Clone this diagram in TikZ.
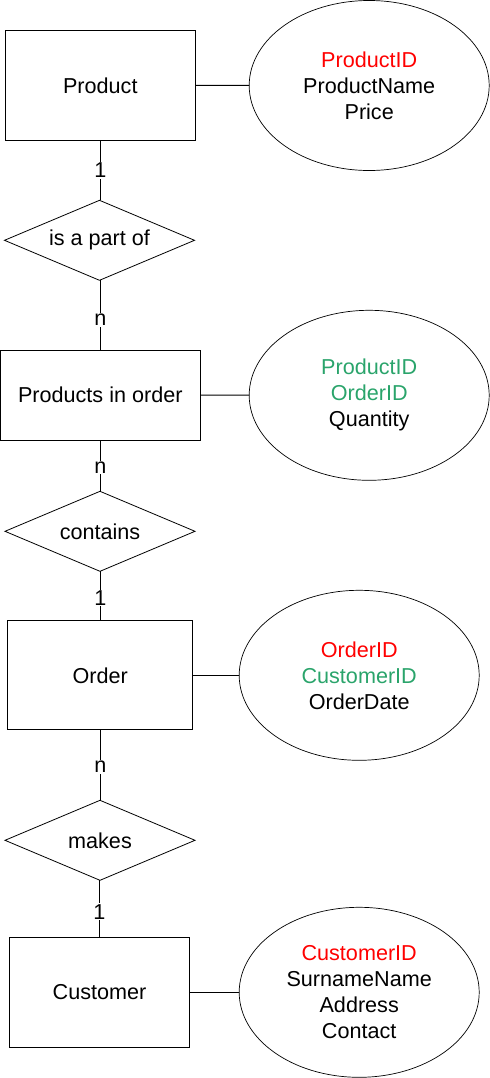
\documentclass[tikz,border=0pt]{standalone}
\usepackage{fontspec}
\setmainfont{Liberation Sans}
\usetikzlibrary{shapes.geometric}
\definecolor{keyred}{HTML}{FF0000}
\definecolor{fkgreen}{HTML}{2AA46B}
\tikzset{
  x=1bp, y=-1bp,
  every node/.style={font=\fontsize{21.6bp}{26bp}\selectfont, inner sep=0pt, outer sep=0pt},
  entity/.style={draw, line width=1bp, minimum width=#1},
  entity/.default={190bp},
  attr/.style={draw, line width=0.7bp, ellipse, minimum width=240bp, minimum height=170bp, align=center},
  rel/.style={draw, line width=0.8bp, diamond, aspect=2.375, minimum width=190bp, minimum height=80bp},
  link/.style={line width=1bp},
  card/.style={fill=white, inner sep=1bp}
}
\begin{document}
\begin{tikzpicture}
\useasboundingbox (0,0) rectangle (490,1078);
% entities
\node[entity={190bp}, minimum height=110bp] (product) at (100.3,85.3) {Product};
\node[entity={200bp}, minimum height=90bp] (pio) at (100.3,395) {Products in order};
\node[entity={185bp}, minimum height=109bp] (order) at (100.3,675.3) {Order};
\node[entity={180bp}, minimum height=110bp] (customer) at (99.5,992.3) {Customer};
% attributes
\node[attr] (productA) at (369.2,85.5) {\textcolor{keyred}{ProductID}\\ProductName\\Price};
\node[attr] (pioA) at (369.2,395.3) {\textcolor{fkgreen}{ProductID}\\\textcolor{fkgreen}{OrderID}\\Quantity};
\node[attr] (orderA) at (359.2,675.3) {\textcolor{keyred}{OrderID}\\\textcolor{fkgreen}{CustomerID}\\OrderDate};
\node[attr] (customerA) at (359.2,992.3) {\textcolor{keyred}{CustomerID}\\SurnameName\\Address\\Contact};
% relationships
\node[rel] (partof) at (99.5,240.3) {is a part of};
\node[rel] (contains) at (100,531.3) {contains};
\node[rel] (makes) at (100,840.3) {makes};
% attribute links
\draw[link] (product) -- (productA);
\draw[link] (pio) -- (pioA);
\draw[link] (order) -- (orderA);
\draw[link] (customer) -- (customerA);
% relationship links
\draw[link] (product.south) -- node[card]{1} (product.south |- partof.north);
\draw[link] (pio.north) -- node[card, yshift=-5bp]{n} (pio.north |- partof.south);
\draw[link] (pio.south) -- node[card, yshift=-2bp]{n} (pio.south |- contains.north);
\draw[link] (order.north) -- node[card, yshift=-2bp]{1} (order.north |- contains.south);
\draw[link] (order.south) -- node[card, yshift=-2bp]{n} (order.south |- makes.north);
\draw[link] (customer.north) -- node[card, yshift=-3bp]{1} (customer.north |- makes.south);
\end{tikzpicture}
\end{document}
